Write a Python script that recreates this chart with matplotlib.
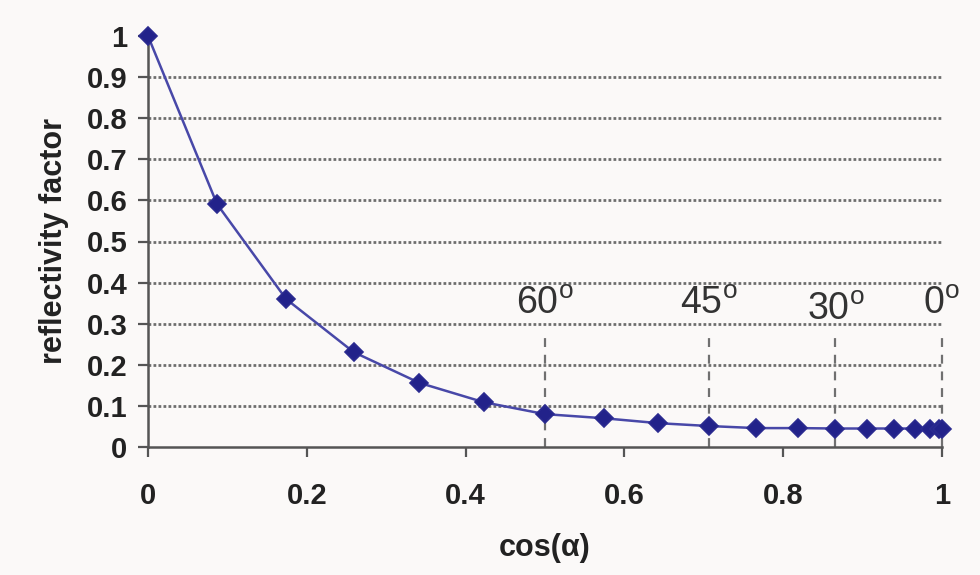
import matplotlib
matplotlib.use("Agg")
import matplotlib.pyplot as plt

cos_alpha = [0.0, 0.087, 0.174, 0.259, 0.342, 0.423, 0.5, 0.574, 0.643, 0.707,
             0.766, 0.819, 0.866, 0.906, 0.940, 0.966, 0.985, 0.996, 1.0]
reflectivity = [1.0, 0.591, 0.36, 0.231, 0.156, 0.109, 0.080, 0.070, 0.058, 0.051,
                0.046, 0.046, 0.045, 0.045, 0.045, 0.045, 0.045, 0.045, 0.045]

angle_labels = ["60", "45", "30", "0"]
angle_x = [0.5, 0.707, 0.866, 1.0]
angle_label_y = [0.305, 0.305, 0.29, 0.305]

x_ticks = [0, 0.2, 0.4, 0.6, 0.8, 1.0]
x_ticklabels = ["0", "0.2", "0.4", "0.6", "0.8", "1"]
y_ticks = [0, 0.1, 0.2, 0.3, 0.4, 0.5, 0.6, 0.7, 0.8, 0.9, 1.0]
y_ticklabels = ["0", "0.1", "0.2", "0.3", "0.4", "0.5", "0.6", "0.7", "0.8", "0.9", "1"]

plt.rcParams['font.family'] = ['Liberation Sans', 'DejaVu Sans']

bg = '#fbf9f8'
fig = plt.figure(figsize=(9.8, 5.75), dpi=100, facecolor=bg)
ax = fig.add_axes([0.151, 0.2226, 0.810, 0.7148])
ax.set_facecolor(bg)

# gridlines
for yv in y_ticks[1:-1]:
    ax.axhline(yv, color='#6e6e6e', linestyle=(0, (1.0, 0.8)), linewidth=2.0, zorder=1)

# dashed angle markers
for xv, lab, ly in zip(angle_x, angle_labels, angle_label_y):
    ax.plot([xv, xv], [0, 0.265], color='#707070', linestyle=(0, (4, 3.5)),
            linewidth=1.6, zorder=2, clip_on=False)
    ax.text(xv, ly, lab + r"$^{\mathregular{o}}$", ha='center', va='bottom',
            fontsize=27, color='#333333')

ax.plot(cos_alpha, reflectivity, color='#4848a8', linewidth=1.8, marker='D',
        markersize=9.5, markerfacecolor='#22228a', markeredgecolor='#2a2a90',
        markeredgewidth=1.2, zorder=4, clip_on=False)

ax.set_xlim(0, 1)
ax.set_ylim(0, 1)
ax.set_xticks(x_ticks)
ax.set_xticklabels(x_ticklabels)
ax.set_yticks(y_ticks)
ax.set_yticklabels(y_ticklabels)
for lbl in ax.get_xticklabels() + ax.get_yticklabels():
    lbl.set_fontweight('bold')
    lbl.set_fontsize(21)
    lbl.set_color('#222222')

ax.spines['top'].set_visible(False)
ax.spines['right'].set_visible(False)
for s in ['left', 'bottom']:
    ax.spines[s].set_color('#555555')
    ax.spines[s].set_linewidth(1.8)
ax.tick_params(axis='y', direction='out', length=7, width=1.6, color='#555555', pad=8)
ax.tick_params(axis='x', direction='out', length=7, width=1.6, color='#555555', pad=18)

ax.set_xlabel("cos(α)", fontsize=22, fontweight='bold', color='#222222', va='center')
ax.xaxis.set_label_coords(0.5, -0.246)
ax.set_ylabel("reflectivity factor", fontsize=22, fontweight='bold', color='#222222', va='center')
ax.yaxis.set_label_coords(-0.118, 0.5)

fig.savefig("out.png", dpi=100, facecolor=bg)
